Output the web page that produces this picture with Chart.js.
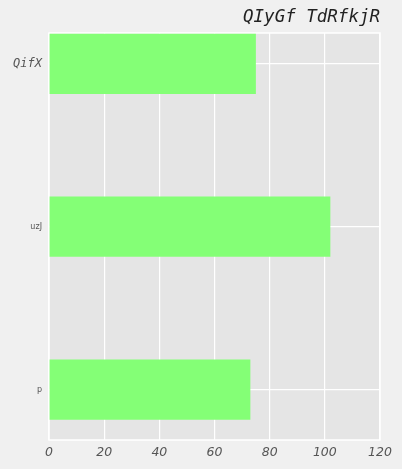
<!DOCTYPE html>
<html><head><meta charset="utf-8">
<script src="https://cdn.jsdelivr.net/npm/chart.js@4/dist/chart.umd.min.js"></script>
<style>html,body{margin:0;padding:0;background:#f0f0f0;}#wrap{width:402px;height:469px;}</style>
</head><body><div id="wrap"><canvas id="c" width="402" height="469"></canvas></div>
<script>
const title = "QIyGf TdRfkjR";
const categories = ["p", "uzJ", "QifX"];
const values = [73, 102, 75];
const xTicks = [0, 20, 40, 60, 80, 100, 120];

const bgPlugin = {
  id: 'bg',
  beforeDraw(chart) {
    const {ctx, chartArea: a} = chart;
    ctx.save();
    ctx.fillStyle = '#e5e5e5';
    ctx.fillRect(a.left, a.top, a.right - a.left, a.bottom - a.top);
    ctx.restore();
  }
};
const borderPlugin = {
  id: 'border',
  beforeDatasetsDraw(chart) {
    const {ctx, chartArea: a} = chart;
    ctx.save();
    ctx.strokeStyle = '#ffffff';
    ctx.lineWidth = 1.5;
    ctx.strokeRect(a.left, a.top, a.right - a.left, a.bottom - a.top);
    ctx.restore();
  }
};

new Chart(document.getElementById('c'), {
  type: 'bar',
  data: {
    datasets: [{
      data: values.map((v, i) => ({x: v, y: i})),
      backgroundColor: '#84ff76',
      borderWidth: 0,
      barPercentage: 0.37,
      categoryPercentage: 1.0
    }]
  },
  options: {
    indexAxis: 'y',
    responsive: false,
    animation: false,
    devicePixelRatio: 1,
    layout: {padding: {left: 0, right: 22, top: 0, bottom: 0}},
    plugins: {
      legend: {display: false},
      tooltip: {enabled: false},
      title: {
        display: true, text: title, align: 'end',
        color: '#222222',
        font: {family: 'DejaVu Sans Mono', size: 17.5, style: 'italic', weight: 'normal', lineHeight: 1.2},
        padding: {top: 6.5, bottom: 5.5}
      }
    },
    scales: {
      x: {
        type: 'linear', min: 0, max: 120,
        afterBuildTicks: s => { s.ticks = xTicks.map(v => ({value: v})); },
        afterFit: s => { s.height = 29; },
        grid: {color: '#ffffff', lineWidth: 1.2, drawTicks: false},
        border: {display: false},
        ticks: {color: '#555555', padding: 5, font: {family: 'DejaVu Sans', size: 12.5, style: 'italic'}}
      },
      y: {
        type: 'linear', min: -0.31, max: 2.19, offset: false,
        afterBuildTicks: s => { s.ticks = categories.map((c, i) => ({value: i})); },
        afterFit: s => { s.width = 49; },
        grid: {color: '#ffffff', lineWidth: 1.2, drawTicks: false, offset: false},
        border: {display: false},
        ticks: {
          color: '#555555', padding: 7,
          callback: (v) => categories[Math.round(v)],
          font: (ctx) => ctx.index === 2
            ? {family: 'DejaVu Sans Mono', size: 12, style: 'italic'}
            : {family: 'DejaVu Sans', size: 8, style: 'normal'}
        }
      }
    }
  },
  plugins: [bgPlugin, borderPlugin]
});
</script></body></html>
